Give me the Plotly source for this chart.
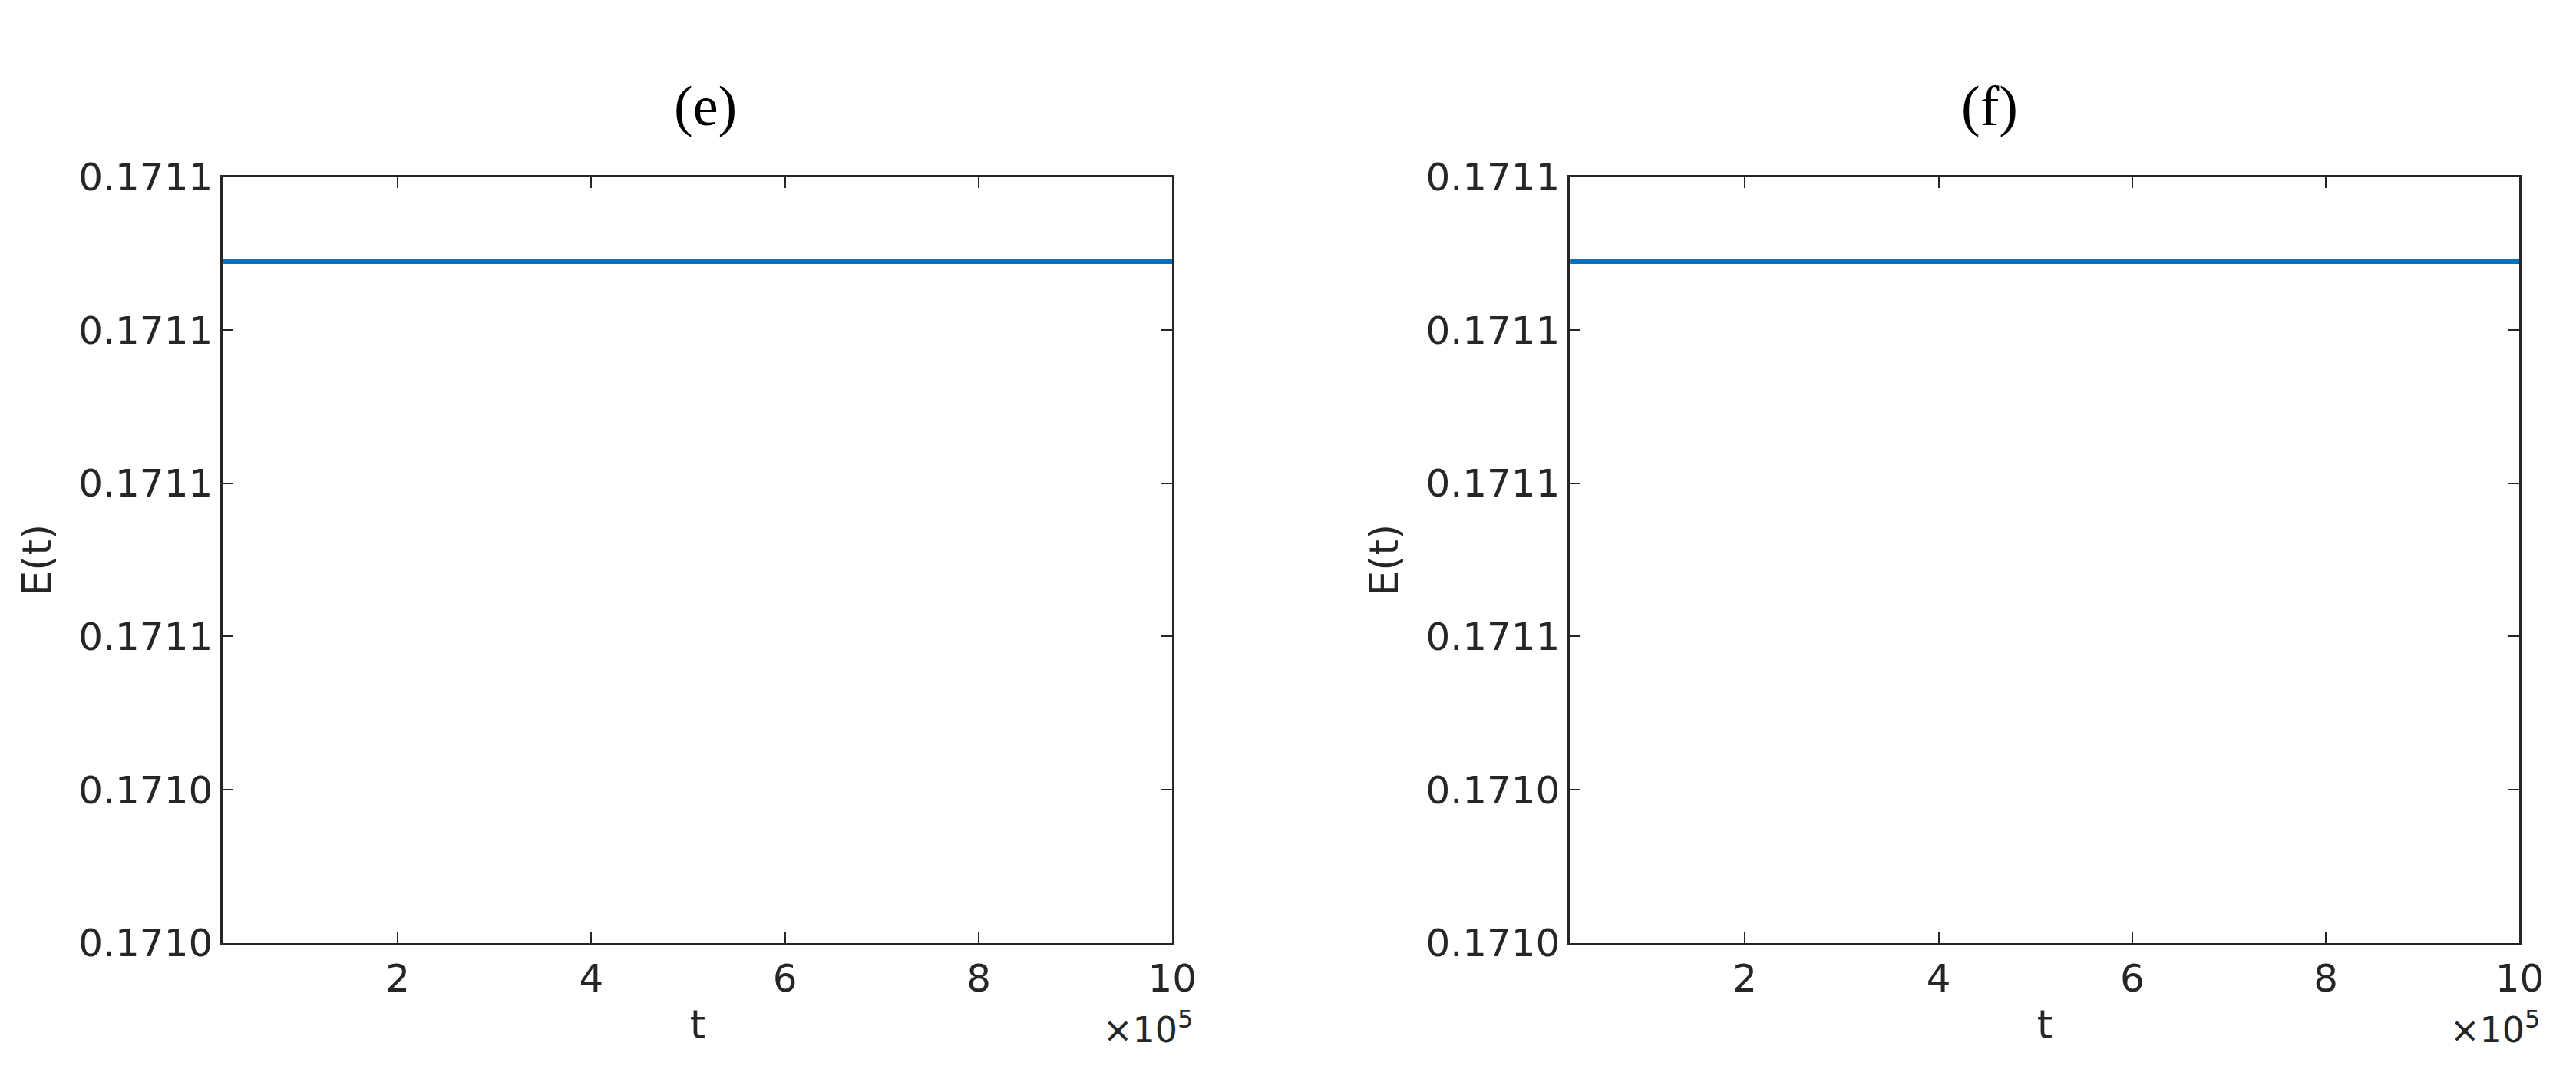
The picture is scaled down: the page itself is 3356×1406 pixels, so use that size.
import plotly.graph_objects as go

t_e = [20000, 1000000]
E_e = [0.171089, 0.171089]
t_f = [20000, 1000000]
E_f = [0.171089, 0.171089]
panel_titles = ["(e)", "(f)"]
x_tickvals = [200000, 400000, 600000, 800000, 1000000]
x_ticktext = ["2", "4", "6", "8", "10"]
y_tickvals = [0.17100, 0.17102, 0.17104, 0.17106, 0.17108, 0.17110]
y_ticktext = ["0.1710", "0.1710", "0.1711", "0.1711", "0.1711", "0.1711"]

W, H = 3356, 1406
fig = go.Figure()
doms = [(285/W, 1534/W), (2057/W, 3306/W)]
ytop, ybot = 1-203/H, 1-1244/H
C = "#262626"
for i, (t, E) in enumerate([(t_e, E_e), (t_f, E_f)]):
    sfx = "" if i == 0 else "2"
    fig.add_trace(go.Scatter(x=t, y=E, mode="lines", line=dict(color="#0072BD", width=7),
                             xaxis="x"+sfx, yaxis="y"+sfx, showlegend=False))
    ax = dict(domain=list(doms[i]), range=[19400, 1000000], tickvals=x_tickvals, ticktext=x_ticktext,
              ticks="inside", ticklen=14, tickwidth=2, tickcolor=C, mirror="ticks",
              showline=True, linecolor=C, linewidth=3, showgrid=False, zeroline=False,
              tickfont=dict(family="DejaVu Sans", size=50, color=C),
              title=dict(text="t", font=dict(family="DejaVu Sans", size=52, color=C), standoff=14),
              anchor="y"+sfx)
    ay = dict(domain=[ybot, ytop], range=[0.17100, 0.17110], tickvals=y_tickvals, ticktext=y_ticktext,
              ticks="inside", ticklen=14, tickwidth=2, tickcolor=C, mirror="ticks",
              showline=True, linecolor=C, linewidth=3, showgrid=False, zeroline=False,
              tickfont=dict(family="DejaVu Sans", size=50, color=C),
              title=dict(text="E(t)", font=dict(family="DejaVu Sans", size=52, color=C), standoff=20),
              anchor="x"+sfx)
    fig.update_layout(**{"xaxis"+sfx: ax, "yaxis"+sfx: ay})
    fig.add_annotation(x=(doms[i][0]+doms[i][1])/2 - 0.01, y=1-62/H, xref="paper", yref="paper",
                       text=panel_titles[i], showarrow=False,
                       font=dict(family="Liberation Serif", size=74, color="black"))
    fig.add_annotation(x=doms[i][1]+0.009, y=1-1392/H, xref="paper", yref="paper",
                       text="×10<sup>5</sup>", showarrow=False, xanchor="right",
                       font=dict(family="DejaVu Sans", size=46, color=C))

fig.update_layout(width=W, height=H, margin=dict(l=0, r=0, t=0, b=0),
                  paper_bgcolor="white", plot_bgcolor="white")
fig.write_html("out.html")
